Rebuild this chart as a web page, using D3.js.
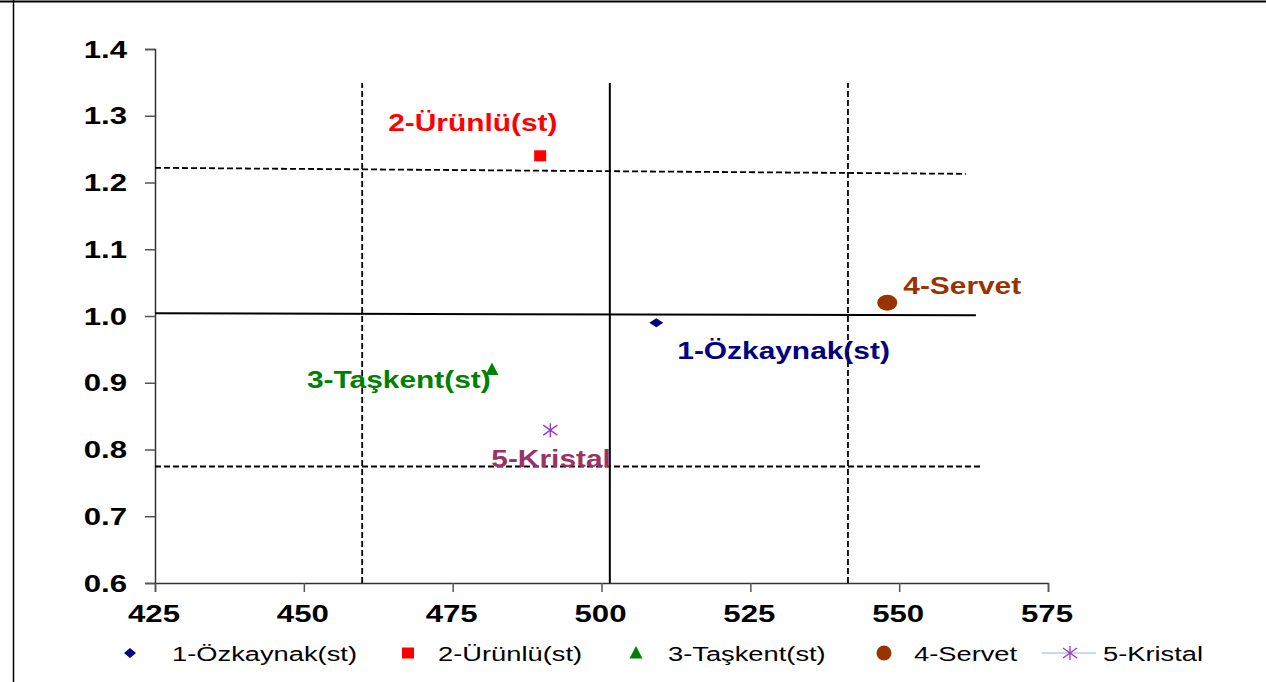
<!DOCTYPE html>
<html>
<head>
<meta charset="utf-8">
<script src="https://cdn.jsdelivr.net/npm/d3@7"></script>
<style>
  html, body { margin: 0; padding: 0; background: #fff; }
  svg { display: block; font-family: "Liberation Sans", Arial, sans-serif; }
</style>
</head>
<body>
<svg id="chart" width="1266" height="682"></svg>
<script>
// ---- data ----
const companies = ["1-Özkaynak(st)", "2-Ürünlü(st)", "3-Taşkent(st)", "4-Servet", "5-Kristal"];
const xValues = [509.2, 489.7, 481.6, 548.0, 491.4];
const yValues = [0.99, 1.24, 0.92, 1.02, 0.829];
const xTicks = [425, 450, 475, 500, 525, 550, 575];
const yTicks = [0.6, 0.7, 0.8, 0.9, 1.0, 1.1, 1.2, 1.3, 1.4];
const yTickLabels = ["0.6", "0.7", "0.8", "0.9", "1.0", "1.1", "1.2", "1.3", "1.4"];
// reference lines: [x1, y1, x2, y2]
const solidLines = [[501.4, 0.6, 501.4, 1.349], [425, 1.004, 562.9, 1.001]];
const dashedLines = [[459.8, 0.6, 459.8, 1.349], [541.4, 0.6, 541.4, 1.349],
                     [425, 1.222, 561.2, 1.213], [425, 0.7745, 563.9, 0.7745]];

// ---- styles ----
const markerColors = ["#000080", "#FF0000", "#008000", "#993300", "#9933CC"];
const labelColors = ["#000080", "#FF0000", "#008000", "#993300", "#993366"];
const labelOffsets = [[21, 36], [-152, -25], [-185, 19], [16, -9], [-59, 37]];
const SX = 1.3;

const svg = d3.select("#chart");
const x = d3.scaleLinear().domain([425, 575]).range([155, 1048]);
const y = d3.scaleLinear().domain([0.6, 1.4]).range([583, 49]);

// frame
svg.append("line").attr("x1", 0).attr("x2", 1266).attr("y1", 1.5).attr("y2", 1.5)
  .attr("stroke", "#000").attr("stroke-width", 2);
svg.append("line").attr("x1", 13.5).attr("x2", 13.5).attr("y1", 0).attr("y2", 682)
  .attr("stroke", "#000").attr("stroke-width", 1.5);

// axes
const yAxis = svg.append("g").attr("transform", "translate(155,0)")
  .call(d3.axisLeft(y).tickValues(yTicks).tickSize(10).tickFormat(""));
const xAxis = svg.append("g").attr("transform", "translate(0,583)")
  .call(d3.axisBottom(x).tickValues(xTicks).tickSize(9).tickFormat(""));
[yAxis, xAxis].forEach(a => {
  a.select(".domain").attr("stroke", "#333").attr("stroke-width", 1.5);
  a.selectAll(".tick line").attr("stroke", "#555").attr("stroke-width", 1.5);
});

function stretch(sel, px, py) {
  return sel.attr("transform", `translate(${px},${py}) scale(${SX},1)`);
}

yTicks.forEach((t, i) => {
  stretch(svg.append("text"), 127, y(t) + 8.5)
    .attr("text-anchor", "end").attr("font-size", 24).attr("font-weight", "bold")
    .attr("fill", "#000").text(yTickLabels[i]);
});
xTicks.forEach(t => {
  stretch(svg.append("text"), x(t) - 1, 622)
    .attr("text-anchor", "middle").attr("font-size", 24).attr("font-weight", "bold")
    .attr("fill", "#000").text(t);
});

// reference lines
solidLines.forEach(l => {
  svg.append("line").attr("x1", x(l[0])).attr("y1", y(l[1])).attr("x2", x(l[2])).attr("y2", y(l[3]))
    .attr("stroke", "#000").attr("stroke-width", 2);
});
dashedLines.forEach(l => {
  svg.append("line").attr("x1", x(l[0])).attr("y1", y(l[1])).attr("x2", x(l[2])).attr("y2", y(l[3]))
    .attr("stroke", "#000").attr("stroke-width", 1.8).attr("stroke-dasharray", "6,3");
});

// markers
function drawMarker(g, i, cx, cy) {
  const c = markerColors[i];
  if (i === 0) {
    g.append("path").attr("d", `M${cx - 7},${cy} L${cx},${cy - 4.5} L${cx + 7},${cy} L${cx},${cy + 4.5} Z`).attr("fill", c);
  } else if (i === 1) {
    g.append("rect").attr("x", cx - 6).attr("y", cy - 5.5).attr("width", 12).attr("height", 11).attr("fill", c);
  } else if (i === 2) {
    g.append("path").attr("d", `M${cx},${cy - 7} L${cx + 6.5},${cy + 5.5} L${cx - 6.5},${cy + 5.5} Z`).attr("fill", c);
  } else if (i === 3) {
    g.append("ellipse").attr("cx", cx).attr("cy", cy).attr("rx", 10).attr("ry", 8).attr("fill", c);
  } else {
    const s = g.append("g").attr("stroke", c).attr("stroke-width", 1.3);
    s.append("line").attr("x1", cx).attr("x2", cx).attr("y1", cy - 7).attr("y2", cy + 7);
    s.append("line").attr("x1", cx - 7).attr("x2", cx + 7).attr("y1", cy - 5).attr("y2", cy + 5);
    s.append("line").attr("x1", cx - 7).attr("x2", cx + 7).attr("y1", cy + 5).attr("y2", cy - 5);
  }
}

const pts = svg.append("g");
companies.forEach((name, i) => {
  const px = x(xValues[i]), py = y(yValues[i]);
  drawMarker(pts, i, px, py);
  stretch(svg.append("text"), px + labelOffsets[i][0], py + labelOffsets[i][1])
    .attr("font-size", 23).attr("font-weight", "bold").attr("fill", labelColors[i]).text(name);
});

// legend
const legendMarkerX = [130, 408, 636, 884, 1070];
const legendTextX = [172, 438, 668, 914, 1103];
const ly = 653;
companies.forEach((name, i) => {
  if (i === 4) {
    svg.append("line").attr("x1", legendMarkerX[i] - 28).attr("x2", legendMarkerX[i] + 26)
      .attr("y1", ly).attr("y2", ly).attr("stroke", "#C6D9F1").attr("stroke-width", 2);
  }
  const g = svg.append("g");
  if (i === 3) {
    g.append("circle").attr("cx", legendMarkerX[i]).attr("cy", ly).attr("r", 7.5).attr("fill", markerColors[i]);
  } else if (i === 0) {
    g.append("path").attr("d", `M${legendMarkerX[i] - 6},${ly} L${legendMarkerX[i]},${ly - 5} L${legendMarkerX[i] + 6},${ly} L${legendMarkerX[i]},${ly + 5} Z`).attr("fill", markerColors[i]);
  } else {
    drawMarker(g, i, legendMarkerX[i], ly);
  }
  stretch(svg.append("text"), legendTextX[i], ly + 7.5)
    .attr("font-size", 21).attr("fill", "#000").text(name);
});
</script>
</body>
</html>
